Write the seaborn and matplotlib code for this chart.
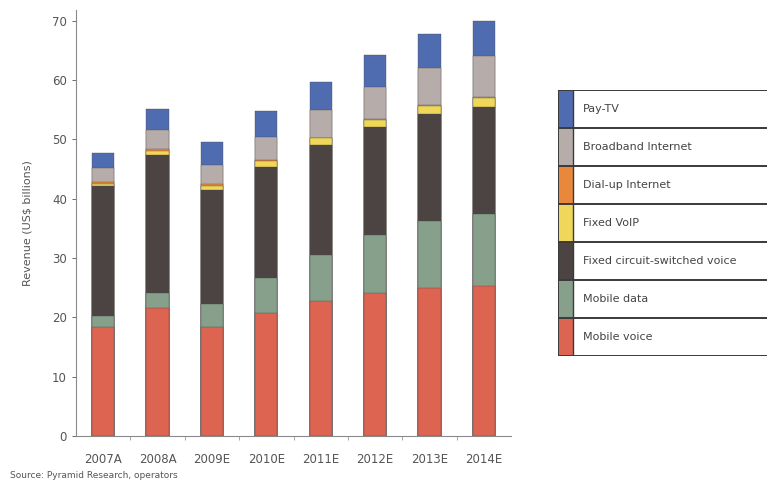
import numpy as np
import pandas as pd
import seaborn as sns
import matplotlib.pyplot as plt
from matplotlib.patches import Rectangle

years = ["2007A", "2008A", "2009E", "2010E", "2011E", "2012E", "2013E", "2014E"]

# segments, bottom to top (US$ billions)
mobile_voice = [18.4, 21.6, 18.3, 20.8, 22.8, 24.1, 25.0, 25.3]
mobile_data = [1.8, 2.5, 4.0, 5.9, 7.7, 9.7, 11.3, 12.2]
fixed_circuit = [22.0, 23.3, 19.1, 18.7, 18.6, 18.2, 17.9, 17.9]
fixed_voip = [0.3, 0.6, 0.8, 0.9, 1.1, 1.3, 1.5, 1.6]
dialup = [0.3, 0.3, 0.2, 0.2, 0.1, 0.1, 0.1, 0.1]
broadband = [2.4, 3.3, 3.3, 3.9, 4.6, 5.4, 6.2, 7.0]
pay_tv = [2.5, 3.5, 3.9, 4.4, 4.8, 5.4, 5.8, 5.9]

series = ["Mobile voice", "Mobile data", "Fixed circuit-switched voice",
          "Fixed VoIP", "Dial-up Internet", "Broadband Internet", "Pay-TV"]
colors = ["#dc6450", "#87a08b", "#4b4442", "#f0d75a", "#e9883a", "#b6adab", "#4f6cb0"]

df = pd.DataFrame({
    "year": years,
    "Mobile voice": mobile_voice,
    "Mobile data": mobile_data,
    "Fixed circuit-switched voice": fixed_circuit,
    "Fixed VoIP": fixed_voip,
    "Dial-up Internet": dialup,
    "Broadband Internet": broadband,
    "Pay-TV": pay_tv,
})
cum = df[series].cumsum(axis=1)
cum["year"] = years

sns.set_style("white")
plt.rcParams["font.family"] = ["DejaVu Sans"]
grey = "#555555"

fig = plt.figure(figsize=(7.67, 4.83), dpi=100)
ax = fig.add_axes([76 / 767, 47 / 483, 435 / 767, 426 / 483])

# draw cumulative totals from the top layer down so each covers the one above
for name, col in reversed(list(zip(series, colors))):
    sns.barplot(data=cum, x="year", y=name, color=col, width=0.41,
                saturation=1, edgecolor="#4a4442", linewidth=0.25, ax=ax)

ax.set_xlim(-0.5, 7.5)
ax.set_ylim(0, 71.8)
ax.set_yticks(np.arange(0, 71, 10))
ax.set_xlabel("")
ax.set_ylabel("Revenue (US$ billions)", fontsize=8, color=grey, labelpad=14)
ax.tick_params(axis="y", labelsize=8.5, colors=grey, length=3, width=0.6, direction="out", left=True)
ax.tick_params(axis="x", labelsize=8.5, colors=grey, length=0, pad=12)
ax.set_xticks(np.arange(0.5, 7, 1), minor=True)
ax.tick_params(axis="x", which="minor", length=3, width=0.6, color="#999999", bottom=True)
for s in ["top", "right"]:
    ax.spines[s].set_visible(False)
for s in ["left", "bottom"]:
    ax.spines[s].set_color("#8a8a8a")
    ax.spines[s].set_linewidth(0.8)

fig.text(10 / 767, 1 - 476 / 483, "Source: Pyramid Research, operators",
         fontsize=6.5, color=grey, va="center")

# legend table
lax = fig.add_axes([558 / 767, 1 - 356 / 483, 0.29, 266 / 483])
lax.set_xlim(0, 222)
lax.set_ylim(0, 7)
lax.axis("off")
for i, (name, col) in enumerate(zip(series, colors)):
    lax.add_patch(Rectangle((0, i), 15, 1, facecolor=col, edgecolor="none"))
    lax.text(25, i + 0.5, name, fontsize=8, color="#444444", va="center")
for i in range(8):
    lax.axhline(i, color="#3a3a3a", linewidth=1.4)
lax.plot([0, 0], [0, 7], color="#3a3a3a", linewidth=1.4)
lax.plot([15, 15], [0, 7], color="#3a3a3a", linewidth=1.0)
lax.plot([215, 215], [0, 7], color="#3a3a3a", linewidth=1.4)

fig.savefig("out.png", dpi=100)
